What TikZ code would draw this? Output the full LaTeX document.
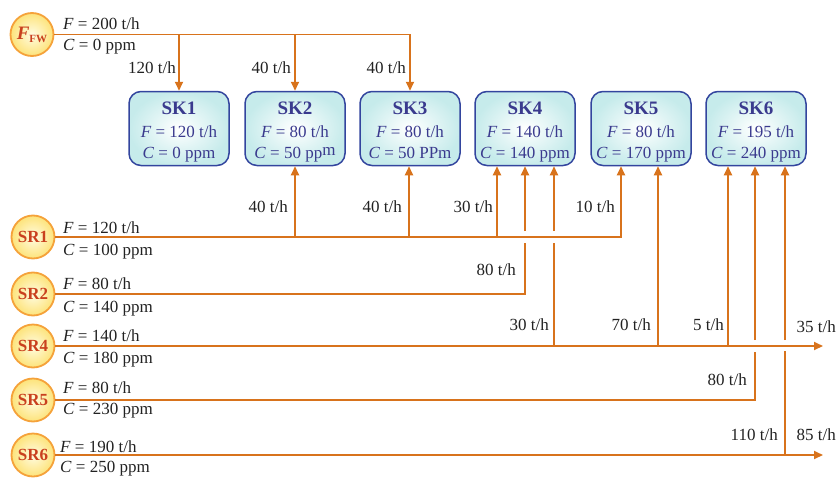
\documentclass[tikz,border=0pt]{standalone}
\usepackage{fontspec}
\setmainfont{Liberation Serif}
\usetikzlibrary{arrows.meta,calc}
\definecolor{flow}{HTML}{D8731C}
\definecolor{skline}{HTML}{33459E}
\definecolor{sktext}{HTML}{3A3A8E}
\definecolor{skfill}{HTML}{C6EBEB}
\definecolor{srtext}{HTML}{C9401E}
\definecolor{srring}{HTML}{F5A23A}
\definecolor{srfill}{HTML}{FDE37A}
\definecolor{srcore}{HTML}{FFFCE2}
\definecolor{lbltext}{HTML}{222222}
\begin{document}
\begin{tikzpicture}[x=1pt,y=-1pt,
  src/.style={circle, draw=srring, line width=1.8pt, inner color=srcore, outer color=srfill,
    minimum size=43pt, inner sep=0pt, text=srtext, font=\fontsize{17}{17}\selectfont\bfseries},
  sink/.style={rectangle, rounded corners=12pt, draw=skline, line width=1.5pt,
    inner color=white, outer color=skfill, minimum width=100pt, minimum height=74pt},
  sinktext/.style={align=center, text=sktext, inner sep=0pt, font=\fontsize{17}{21}\selectfont},
  pipe/.style={draw=flow, line width=1.9pt},
  feed/.style={pipe, -{Triangle[length=9pt,width=8pt]}},
  lbl/.style={text=lbltext, inner sep=0pt, font=\fontsize{17}{17}\selectfont},
]
\useasboundingbox (0,0) rectangle (838,479);

% sources
\node[src] (fw)  at (32,34.5) {\fontsize{19}{19}\selectfont\textit{F}\raisebox{-3pt}{\fontsize{11}{11}\selectfont FW}};
\node[src] (sr1) at (33,237) {SR1};
\node[src] (sr2) at (33,294) {SR2};
\node[src] (sr4) at (33,346) {SR4};
\node[src] (sr5) at (33,400) {SR5};
\node[src] (sr6) at (33,455) {SR6};

% sinks: box plus its three text lines
\newcommand{\skhead}[1]{{\fontsize{19}{19}\selectfont\bfseries #1}\\[2pt]}
\newcommand{\sink}[3]{%
  \node[sink] (#1) at (#2,128.5) {};
  \node[sinktext] (#1t) at ([yshift=-3.5pt]#1.center) {#3\vphantom{p}};}
\sink{sk1}{179}{\skhead{SK1}\textit{F} = 120 t/h\\\textit{C} = 0 ppm}
\sink{sk2}{295}{\skhead{SK2}\textit{F} = 80 t/h\\\textit{C} = 50 pp\raisebox{3pt}{m}}
\sink{sk3}{410}{\skhead{SK3}\textit{F} = 80 t/h\\\textit{C} = 50 PPm}
\sink{sk4}{525}{\skhead{SK4}\textit{F} = 140 t/h\\\textit{C} = 140 ppm}
\sink{sk5}{641}{\skhead{SK5}\textit{F} = 80 t/h\\\textit{C} = 170 ppm}
\sink{sk6}{756}{\skhead{SK6}\textit{F} = 195 t/h\\\textit{C} = 240 ppm}

% inlet points on the sink bottoms
\coordinate (sk2in) at (sk2.south);
\coordinate (sk3in) at ([xshift=-1pt]sk3.south);
\coordinate (sk4a) at ([xshift=-28pt]sk4.south);
\coordinate (sk4b) at (sk4.south);
\coordinate (sk4c) at ([xshift=29pt]sk4.south);
\coordinate (sk5a) at ([xshift=-20pt]sk5.south);
\coordinate (sk5b) at ([xshift=17pt]sk5.south);
\coordinate (sk6a) at ([xshift=-28pt]sk6.south);
\coordinate (sk6b) at ([xshift=-1pt]sk6.south);
\coordinate (sk6c) at ([xshift=29pt]sk6.south);
\coordinate (out4) at (823,346);
\coordinate (out6) at (823,455);

% fresh water
\draw[feed] (fw.east) -| (sk3.north);
\draw[feed] (sk1.north |- fw.east) -- (sk1.north);
\draw[feed] (sk2.north |- fw.east) -- (sk2.north);

% SR1
\draw[feed] (sr1.east) -| (sk5a);
\draw[feed] (sk2in |- sr1.east) -- (sk2in);
\draw[feed] (sk3in |- sr1.east) -- (sk3in);
\draw[feed] (sk4a |- sr1.east) -- (sk4a);

% SR2 (hops over SR1)
\draw[pipe] (sr2.east) -| ($(sk4b |- sr1.east)+(0,6)$);
\draw[feed] ($(sk4b |- sr1.east)+(0,-6)$) -- (sk4b);

% SR4
\draw[feed] (sr4.east) -- (out4);
\draw[pipe] (sk4c |- sr4.east) -- ($(sk4c |- sr1.east)+(0,6)$);
\draw[feed] ($(sk4c |- sr1.east)+(0,-6)$) -- (sk4c);
\draw[feed] (sk5b |- sr4.east) -- (sk5b);
\draw[feed] (sk6a |- sr4.east) -- (sk6a);

% SR5 (hops over SR4)
\draw[pipe] (sr5.east) -| ($(sk6b |- sr4.east)+(0,6)$);
\draw[feed] ($(sk6b |- sr4.east)+(0,-6)$) -- (sk6b);

% SR6 (hops over SR4)
\draw[feed] (sr6.east) -- (out6);
\draw[pipe] (sk6c |- sr6.east) -- ($(sk6c |- sr4.east)+(0,5)$);
\draw[feed] ($(sk6c |- sr4.east)+(0,-6)$) -- (sk6c);

% stream data
\node[lbl, anchor=west] (fwF) at (63,24) {\textit{F} = 200 t/h};
\node[lbl, anchor=west] (fwC) at (63,47) {\textit{C} = 0 ppm};
\node[lbl, anchor=west] (sr1F) at (63,228) {\textit{F} = 120 t/h};
\node[lbl, anchor=west] (sr1C) at (63,252) {\textit{C} = 100 ppm};
\node[lbl, anchor=west] (sr2F) at (63,284) {\textit{F} = 80 t/h};
\node[lbl, anchor=west] (sr2C) at (63,309) {\textit{C} = 140 ppm};
\node[lbl, anchor=west] (sr4F) at (63,336) {\textit{F} = 140 t/h};
\node[lbl, anchor=west] (sr4C) at (63,360) {\textit{C} = 180 ppm};
\node[lbl, anchor=west] (sr5F) at (63,388) {\textit{F} = 80 t/h};
\node[lbl, anchor=west] (sr5C) at (63,411) {\textit{C} = 230 ppm};
\node[lbl, anchor=west] (sr6F) at (60,447) {\textit{F} = 190 t/h};
\node[lbl, anchor=west] (sr6C) at (60,469) {\textit{C} = 250 ppm};

% flow rates
\node[lbl, anchor=east] (q1) at (176,68) {120 t/h};
\node[lbl, anchor=east] (q2) at (291,68) {40 t/h};
\node[lbl, anchor=east] (q3) at (406,68) {40 t/h};
\node[lbl, anchor=east] (q4) at (288,207) {40 t/h};
\node[lbl, anchor=east] (q5) at (402,207) {40 t/h};
\node[lbl, anchor=east] (q6) at (493,207) {30 t/h};
\node[lbl, anchor=east] (q7) at (615,207) {10 t/h};
\node[lbl, anchor=east] (q8) at (516,270) {80 t/h};
\node[lbl, anchor=east] (q9) at (549,325) {30 t/h};
\node[lbl, anchor=east] (q10) at (651,325) {70 t/h};
\node[lbl, anchor=east] (q11) at (724,325) {5 t/h};
\node[lbl, anchor=east] (q12) at (836,327) {35 t/h};
\node[lbl, anchor=east] (q13) at (747,380) {80 t/h};
\node[lbl, anchor=east] (q14) at (778,435) {110 t/h};
\node[lbl, anchor=east] (q15) at (836,435) {85 t/h};
\end{tikzpicture}
\end{document}
